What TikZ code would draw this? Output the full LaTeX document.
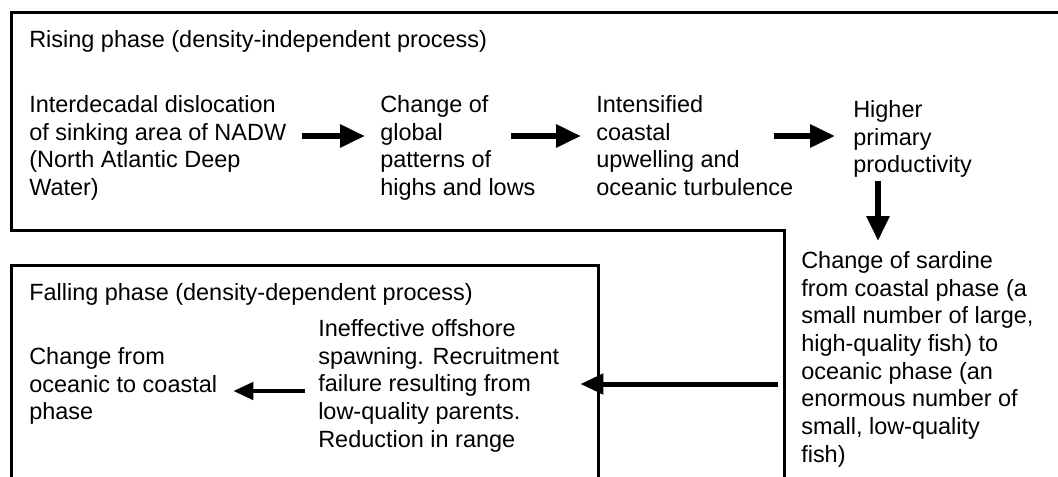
\documentclass[tikz,border=0pt]{standalone}
\usepackage{fontspec}
\setmainfont{Liberation Sans}
\usetikzlibrary{arrows.meta}
\newcommand\firstline{\rule{0pt}{14pt}}
\begin{document}
\begin{tikzpicture}[x=0.75pt,y=-0.75pt,
  txt/.style={anchor=north west, inner sep=0pt, align=left, font=\fontsize{17.6}{20.8}\selectfont},
  ttl/.style={anchor=base west, inner sep=0pt, font=\fontsize{17.6}{20.8}\selectfont},
  frame/.style={line width=2.25pt},
  bigarrow/.style={line width=4.5pt, -{Triangle[length=18.75pt,width=16.5pt]}},
  midarrow/.style={line width=3.75pt, -{Triangle[length=17.25pt,width=15pt]}},
  smallarrow/.style={line width=3pt, -{Triangle[length=15pt,width=13pt]}},
]
\useasboundingbox (0,0) rectangle (1058,476);
\begin{scope}
\clip (0,0) rectangle (1058,476);
\draw[frame] (1080,12) -- (11,12) -- (11,230) -- (784,230) -- (784,500);
\draw[frame] (11,500) -- (11,265) -- (598,265) -- (598,500);
\end{scope}

\node[ttl] (t1) at (29,47) {Rising phase (density-independent process)};
\node[ttl] (t2) at (29,300) {Falling phase (density-dependent process)};

\node[txt] (A) at (29,93.33) {\firstline Interdecadal dislocation\\of sinking area of NADW\\(North Atlantic Deep\\Water)};
\node[txt] (B) at (380,93.33) {\firstline Change of\\global\\patterns of\\highs and lows};
\node[txt] (C) at (596,93.33) {\firstline Intensified\\coastal\\upwelling and\\oceanic turbulence};
\node[txt] (D) at (853,98.33) {\firstline Higher\\primary\\productivity};
\node[txt] (E) at (801,249.33) {\firstline Change of sardine\\from coastal phase (a\\small number of large,\\high-quality fish) to\\oceanic phase (an\\enormous number of\\small, low-quality\\fish)};
\node[txt] (F) at (318,317.33) {\firstline Ineffective offshore\\spawning. Recruitment\\failure resulting from\\low-quality parents.\\Reduction in range};
\node[txt] (G) at (29,345.33) {\firstline Change from\\oceanic to coastal\\phase};

\draw[bigarrow, shorten <=12pt, shorten >=11.25pt] (A.east |- 0,136) -- (B.west |- 0,136);
\draw[bigarrow, shorten <=-18.75pt, shorten >=11.25pt] (B.east |- 0,136) -- (C.west |- 0,136);
\draw[bigarrow, shorten <=-15pt, shorten >=13.5pt] (C.east |- 0,136) -- (D.west |- 0,136);
\draw[bigarrow, shorten <=2pt, shorten >=6.25pt] (878,0 |- D.south) -- (878,0 |- E.north);
\draw[midarrow, shorten <=17.25pt, shorten >=15.75pt] (E.west |- 0,384) -- (F.east |- 0,384);
\draw[smallarrow, shorten <=9.75pt, shorten >=12pt] (F.west |- 0,391) -- (G.east |- 0,391);
\end{tikzpicture}
\end{document}
